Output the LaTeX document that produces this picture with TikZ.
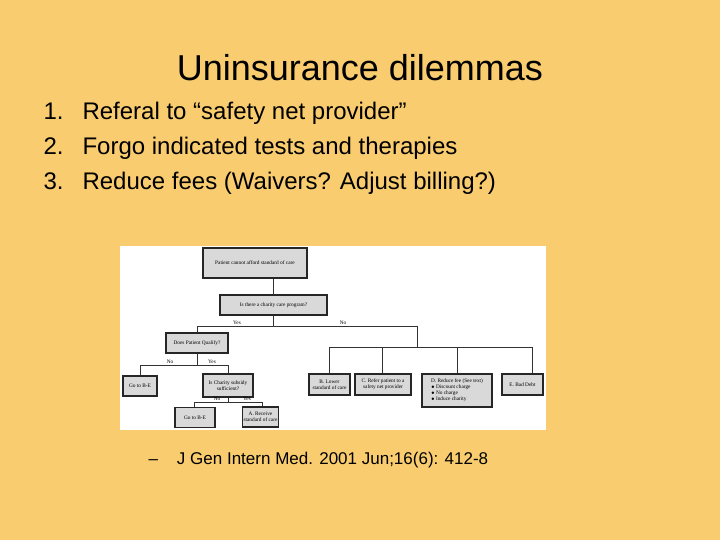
\documentclass[tikz,border=0pt]{standalone}
\usepackage{fontspec}
\setmainfont{Liberation Sans}
\newfontfamily\serifb{Liberation Serif}
\begin{document}
\begin{tikzpicture}[x=1pt,y=-1pt,
 fbox/.style={draw=black!85,line width=1.3pt,fill=black!15,inner sep=1pt,font=\serifb\fontsize{5.3}{6}\selectfont,align=center,minimum height=20pt},
 lab/.style={font=\serifb\fontsize{5.3}{6}\selectfont,inner sep=0pt},
 ln/.style={draw=black!80,line width=1pt}]
\fill[fill={rgb,255:red,249;green,204;blue,111}] (0,0) rectangle (720,540);
\useasboundingbox (0,0) rectangle (720,540);
\node[font=\fontsize{36}{40}\selectfont] (title) at (360,68) {Uninsurance dilemmas};
\node[anchor=west,font=\fontsize{24}{28}\selectfont] (l1) at (40,113) {1.\hspace{19pt}Referal to “safety net provider”};
\node[anchor=west,font=\fontsize{24}{28}\selectfont] (l2) at (40,148) {2.\hspace{19pt}Forgo indicated tests and therapies};
\node[anchor=west,font=\fontsize{24}{28}\selectfont] (l3) at (40,183) {3.\hspace{19pt}Reduce fees (Waivers? Adjust billing?)};
\node[anchor=west,font=\fontsize{17}{20}\selectfont] (cite) at (145,460) {–\hspace{19pt}J Gen Intern Med. 2001 Jun;16(6): 412-8};
\fill[white] (120,246) rectangle (546,430);
% boxes
\node[fbox,minimum width=104pt,minimum height=30pt] (top) at (255,263) {Patient cannot afford standard of care};
\node[fbox,minimum width=107pt] (prog) at (273.5,305) {Is there a charity care program?};
\node[fbox,minimum width=62pt] (qual) at (197,343) {Does Patient Qualify?};
\node[fbox,minimum width=34pt] (go1) at (140,386) {Go to B-E};
\node[fbox,minimum width=50pt,minimum height=23pt] (suff) at (228,385.5) {Is Charity subsidy\\sufficient?};
\node[fbox,minimum width=40pt] (go2) at (195,417.5) {Go to B-E};
\node[fbox,minimum width=35pt] (recv) at (260.5,417) {A. Receive\\standard of care};
\node[fbox,minimum width=41pt,minimum height=21pt] (lower) at (329.5,384.5) {B. Lower\\standard of care};
\node[fbox,minimum width=56pt,minimum height=21pt] (refer) at (383,384.5) {C. Refer patient to a\\safety net provider};
\node[fbox,minimum width=70pt,minimum height=33pt,align=left] (fee) at (457,390.5) {D. Reduce fee (See text)\\$\bullet$\ Discount charge\\$\bullet$\ No charge\\$\bullet$\ Induce charity};
\node[fbox,minimum width=41pt,minimum height=21pt] (debt) at (522.5,384.5) {E. Bad Debt};
% connectors
\coordinate (j1) at (273,326);
\coordinate (j2) at (417,347);
\coordinate (j3) at (197,365);
\coordinate (j4) at (228,402);
\draw[ln] (top.south -| j1) -- (prog.north -| j1);
\draw[ln] (prog.south -| j1) -- (j1);
\draw[ln] (197,326) -- (417,326);
\draw[ln] (197,326) -- (qual.north);
\draw[ln] (417,326) -- (j2);
\draw[ln] (329,347) -- (532,347);
\foreach \n/\x in {lower/329,refer/382,fee/457,debt/532}{\draw[ln] (\x,347) -- (\n.north -| \x,0);}
\draw[ln] (qual.south) -- (j3);
\draw[ln] (140,365) -- (228,365);
\draw[ln] (140,365) -- (go1.north);
\draw[ln] (228,365) -- (suff.north);
\draw[ln] (suff.south) -- (j4);
\draw[ln] (194,402) -- (262,402);
\draw[ln] (194,402) -- (go2.north -| 194,0);
\draw[ln] (262,402) -- (recv.north -| 262,0);
\node[lab] (y1) at (237,323) {Yes};
\node[lab] (n1) at (343,323) {No};
\node[lab] (n2) at (170,362) {No};
\node[lab] (y2) at (212,362) {Yes};
\node[lab] (n3) at (217,399) {No};
\node[lab] (y3) at (247,399) {Yes};
\end{tikzpicture}
\end{document}
